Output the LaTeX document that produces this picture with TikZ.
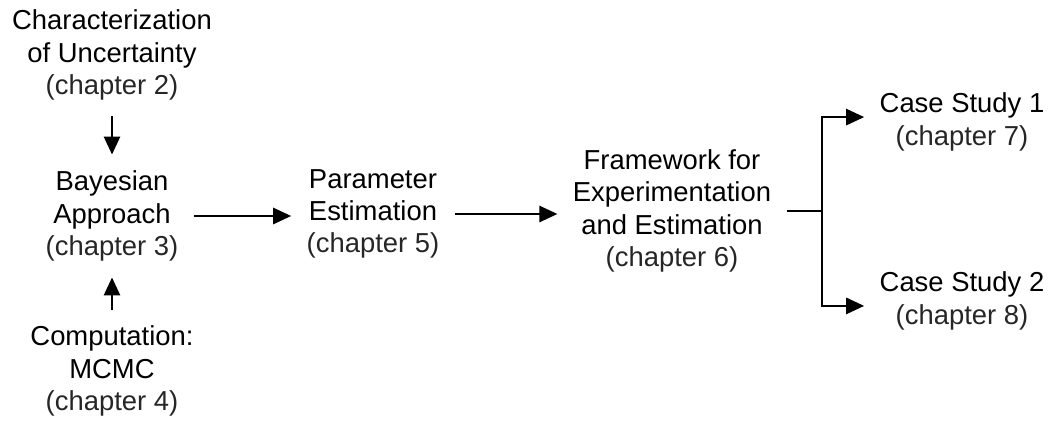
\documentclass[tikz,border=0pt]{standalone}
\usepackage{fontspec}
\setmainfont{Liberation Sans}
\usepackage{tikz}
\usetikzlibrary{arrows.meta,positioning}
\tikzstyle{topic}=[align=center, font=\fontsize{19.5}{23}\selectfont, inner xsep=0.38cm, inner ysep=0.4cm]
\tikzstyle{flow}=[-{Triangle[length=0.45cm,width=0.4cm]}, line width=1.9pt]
\tikzstyle{link}=[line width=1.9pt]
\newcommand{\chap}[1]{{\color{black!85}(chapter #1)}}

\begin{document}
\begin{tikzpicture}[x=0.025cm,y=-0.025cm]
\useasboundingbox (0,0) rectangle (1051,425);
%Left column
\node[topic] (char) at (112,55){Characterization\\of Uncertainty\\\chap{2}};
\node[topic] (bayes) at (112,216){Bayesian\\Approach\\\chap{3}};
\node[topic] (comp) at (112,371){Computation:\\MCMC\\\chap{4}};
%Main row
\node[topic] (param) at (373,214){Parameter\\Estimation\\\chap{5}};
\node[topic] (frame) at (672,211){Framework for\\Experimentation\\and Estimation\\\chap{6}};
\node[topic] (cs1) at (962,122){Case Study 1\\\chap{7}};
\node[topic] (cs2) at (962,301){Case Study 2\\\chap{8}};
%Arrows
\draw[flow] (char) -- (bayes);
\draw[flow] (comp) -- (bayes);
\draw[flow] (bayes.east) -- (bayes.east -| param.west);
\draw[flow] (param.east) -- (param.east -| frame.west);
\coordinate (split) at (822,211);
\draw[link] (frame.east) -- (split);
\draw[flow] (split) |- ([yshift=3.5pt]cs1.west);
\draw[flow] (split) |- ([yshift=-3.5pt]cs2.west);
\end{tikzpicture}
\end{document}
